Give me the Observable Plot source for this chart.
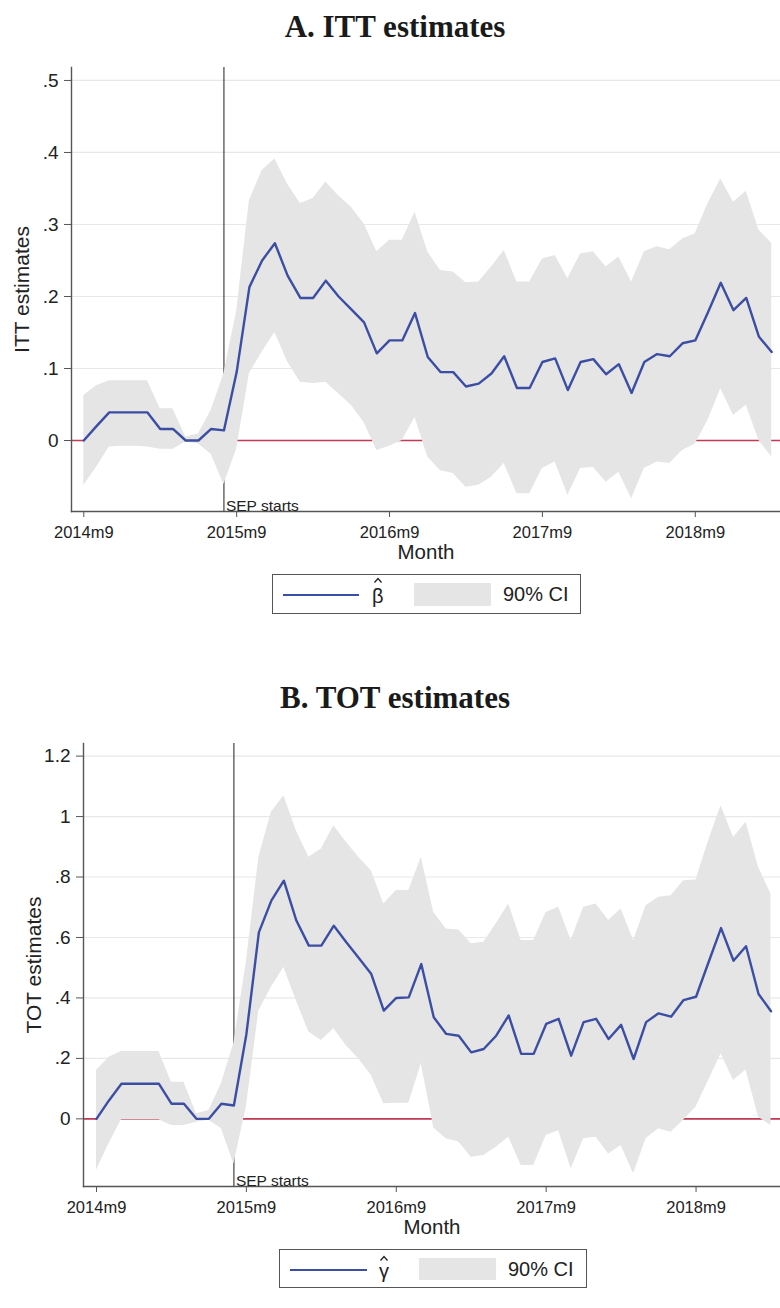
<!DOCTYPE html>
<html><head><meta charset="utf-8">
<script src="https://cdn.jsdelivr.net/npm/d3@7"></script>
<script src="https://cdn.jsdelivr.net/npm/@observablehq/plot@0.6"></script>
<style>
body{margin:0;background:#fff;}
#root{position:relative;width:780px;height:1308px;overflow:hidden;font-family:"Liberation Sans",Arial,sans-serif;color:#222;}
.title{position:absolute;left:0;width:790px;text-align:center;font-family:"Liberation Serif","Times New Roman",serif;font-weight:bold;font-size:31px;line-height:31px;color:#1a1a1a;white-space:nowrap;}
.panel{position:absolute;left:0;}
.legend{position:absolute;border:1.5px solid #555;box-sizing:border-box;background:#fff;}
.legend .ln{position:absolute;height:0;border-top:2.2px solid #3b4ea3;}
.legend .sw{position:absolute;background:#e5e5e5;}
.legend .tx{position:absolute;font-size:20px;line-height:20px;white-space:nowrap;color:#222;}
.legend svg.hat{position:absolute;overflow:visible;}
</style></head>
<body><div id="root">
<div class="title" style="top:11px">A. ITT estimates</div>
<div class="panel" id="pa" style="top:55px"></div>
<div class="legend" style="left:272px;top:574px;width:309px;height:40px">
  <div class="ln" style="left:10px;top:19px;width:76px"></div>
  <svg class="hat" width="8" height="5" style="left:101px;top:3px"><polyline points="0.5,4.5 4,0.5 7.5,4.5" fill="none" stroke="#222" stroke-width="1.3"/></svg>
  <div class="tx" style="left:99px;top:11px">β</div>
  <div class="sw" style="left:141px;top:8px;width:77px;height:23px"></div>
  <div class="tx" style="left:230px;top:9px">90% CI</div>
</div>
<div class="title" style="top:682px">B. TOT estimates</div>
<div class="panel" id="pb" style="top:725px"></div>
<div class="legend" style="left:279px;top:1249px;width:308px;height:39px">
  <div class="ln" style="left:10px;top:19px;width:77px"></div>
  <svg class="hat" width="8" height="5" style="left:100px;top:6px"><polyline points="0.5,4.5 4,0.5 7.5,4.5" fill="none" stroke="#222" stroke-width="1.3"/></svg>
  <div class="tx" style="left:99px;top:11px">γ</div>
  <div class="sw" style="left:139px;top:8px;width:77px;height:22px"></div>
  <div class="tx" style="left:228px;top:9px">90% CI</div>
</div>
</div>
<script>
const months = ["2014m9","2014m10","2014m11","2014m12",
"2015m1","2015m2","2015m3","2015m4","2015m5","2015m6","2015m7","2015m8","2015m9","2015m10","2015m11","2015m12",
"2016m1","2016m2","2016m3","2016m4","2016m5","2016m6","2016m7","2016m8","2016m9","2016m10","2016m11","2016m12",
"2017m1","2017m2","2017m3","2017m4","2017m5","2017m6","2017m7","2017m8","2017m9","2017m10","2017m11","2017m12",
"2018m1","2018m2","2018m3","2018m4","2018m5","2018m6","2018m7","2018m8","2018m9","2018m10","2018m11","2018m12",
"2019m1","2019m2","2019m3"];
const tickMonths = ["2014m9","2015m9","2016m9","2017m9","2018m9"];
const sepMonth = "2015m8";
const sepLabel = "SEP starts";
const xTitle = "Month";

// Panel A: ITT estimates (beta-hat) and 90% CI
const ittEst = [0,0.02,0.039,0.039,0.039,0.039,0.016,0.016,0,0,0.016,0.014,0.095,0.213,0.25,0.274,0.229,0.198,0.198,0.222,0.2,0.182,0.164,0.121,0.139,0.139,0.177,0.116,0.095,0.095,0.075,0.079,0.093,0.117,0.073,0.073,0.109,0.114,0.07,0.109,0.113,0.092,0.106,0.066,0.109,0.12,0.117,0.135,0.139,0.178,0.219,0.181,0.198,0.144,0.123];
const ittHi = [0.0625,0.076,0.083,0.083,0.083,0.083,0.044,0.044,0.005,0.009,0.042,0.093,0.18,0.333,0.375,0.391,0.356,0.329,0.336,0.359,0.34,0.324,0.301,0.262,0.278,0.278,0.317,0.262,0.236,0.234,0.219,0.22,0.241,0.264,0.22,0.22,0.252,0.257,0.225,0.259,0.262,0.241,0.255,0.22,0.262,0.269,0.265,0.28,0.287,0.329,0.363,0.331,0.346,0.292,0.274];
const ittLo = [-0.0625,-0.037,-0.009,-0.008,-0.008,-0.009,-0.012,-0.012,-0.002,-0.005,-0.019,-0.061,-0.012,0.093,0.123,0.15,0.109,0.081,0.079,0.081,0.065,0.049,0.025,-0.014,-0.008,0,0.032,-0.023,-0.042,-0.046,-0.065,-0.062,-0.051,-0.032,-0.074,-0.074,-0.039,-0.03,-0.076,-0.039,-0.037,-0.058,-0.044,-0.081,-0.039,-0.03,-0.032,-0.014,-0.005,0.028,0.072,0.035,0.049,0,-0.023];
const ittTicks = [0,0.1,0.2,0.3,0.4,0.5];
const ittTickLabels = ["0",".1",".2",".3",".4",".5"];

// Panel B: TOT estimates (gamma-hat) and 90% CI
const totEst = [0,0.061,0.116,0.116,0.116,0.116,0.05,0.05,0,0,0.05,0.044,0.28,0.617,0.722,0.788,0.656,0.573,0.573,0.639,0.584,0.532,0.479,0.358,0.4,0.402,0.512,0.336,0.281,0.275,0.22,0.231,0.275,0.342,0.215,0.215,0.314,0.331,0.209,0.32,0.331,0.264,0.311,0.198,0.32,0.349,0.338,0.393,0.404,0.518,0.631,0.523,0.571,0.413,0.356];
const totHi = [0.16,0.204,0.223,0.223,0.223,0.223,0.121,0.121,0.017,0.028,0.116,0.25,0.52,0.865,1.014,1.069,0.953,0.865,0.893,0.97,0.915,0.865,0.821,0.711,0.755,0.755,0.865,0.683,0.628,0.625,0.579,0.584,0.645,0.711,0.59,0.59,0.683,0.7,0.59,0.7,0.711,0.656,0.694,0.59,0.705,0.733,0.738,0.788,0.79,0.92,1.036,0.931,0.981,0.832,0.744];
const totLo = [-0.17,-0.082,-0.003,-0.003,-0.003,-0.003,-0.022,-0.022,-0.011,-0.005,-0.033,-0.149,0.04,0.358,0.435,0.501,0.391,0.287,0.259,0.298,0.242,0.198,0.143,0.05,0.052,0.052,0.182,-0.03,-0.066,-0.077,-0.127,-0.121,-0.094,-0.061,-0.154,-0.154,-0.055,-0.039,-0.165,-0.066,-0.061,-0.116,-0.088,-0.182,-0.066,-0.033,-0.044,-0.005,0.039,0.127,0.215,0.127,0.162,0.005,-0.022];
const totTicks = [0,0.2,0.4,0.6,0.8,1,1.2];
const totTickLabels = ["0",".2",".4",".6",".8","1","1.2"];

const BLUE = "#3b4ea3", RED = "#c23a55", CI = "#e5e5e5", AXIS = "#555";
const FONT = "'Liberation Sans', Arial, sans-serif";
const xi = m => months.indexOf(m);

function panel(o) {
  const data = months.map((m, i) => ({i, m, est: o.est[i], lo: o.lo[i], hi: o.hi[i]}));
  return Plot.plot({
    width: 780, height: o.height,
    marginLeft: o.marginLeft, marginRight: 0, marginTop: o.marginTop, marginBottom: 54,
    style: {fontFamily: FONT, fontSize: "17px", color: "#222", background: "transparent", overflow: "visible"},
    x: {domain: o.xDomain},
    y: {domain: o.yDomain},
    marks: [
      Plot.gridY(o.yTicks, {stroke: "#e8e8e8", strokeOpacity: 1, strokeWidth: 1.2}),
      Plot.ruleY([0], {stroke: RED, strokeWidth: 1.6}),
      Plot.ruleX([xi(sepMonth)], {stroke: "#444", strokeWidth: 1.2}),
      Plot.areaY(data, {x: "i", y1: "lo", y2: "hi", fill: CI}),
      Plot.lineY(data, {x: "i", y: "est", stroke: BLUE, strokeWidth: 2.4}),
      Plot.frame({anchor: "left", stroke: AXIS, strokeWidth: 1.4}),
      Plot.frame({anchor: "bottom", stroke: AXIS, strokeWidth: 1.4}),
      Plot.axisY(o.yTicks, {tickFormat: d => o.yLabels[o.yTicks.indexOf(d)], tickSize: 7, tickPadding: 6, label: null, stroke: AXIS, fontSize: 19}),
      Plot.axisX(tickMonths.map(xi), {tickFormat: d => months[d], tickSize: 6, tickPadding: 9, label: null, stroke: AXIS, fontSize: 16.5}),
      Plot.text([o.yTitle], {frameAnchor: "left", textAnchor: "middle", rotate: -90, dx: -49, fontSize: 21}),
      Plot.text([sepLabel], {x: xi(sepMonth), frameAnchor: "bottom", textAnchor: "start", lineAnchor: "bottom", dx: 2, dy: -1, fontSize: 15.5}),
      Plot.text([xTitle], {frameAnchor: "bottom", dy: 47, fontSize: 20.5})
    ]
  });
}

document.getElementById("pa").appendChild(panel({
  est: ittEst, lo: ittLo, hi: ittHi, yTicks: ittTicks, yLabels: ittTickLabels, yTitle: "ITT estimates",
  height: 510, marginTop: 12, marginLeft: 71, xDomain: [-0.965, 54.69], yDomain: [-0.0986, 0.518]
}));
document.getElementById("pb").appendChild(panel({
  est: totEst, lo: totLo, hi: totHi, yTicks: totTicks, yLabels: totTickLabels, yTitle: "TOT estimates",
  height: 515, marginTop: 18, marginLeft: 83, xDomain: [-1.04, 54.76], yDomain: [-0.2238, 1.2417]
}));
</script>
</body></html>
